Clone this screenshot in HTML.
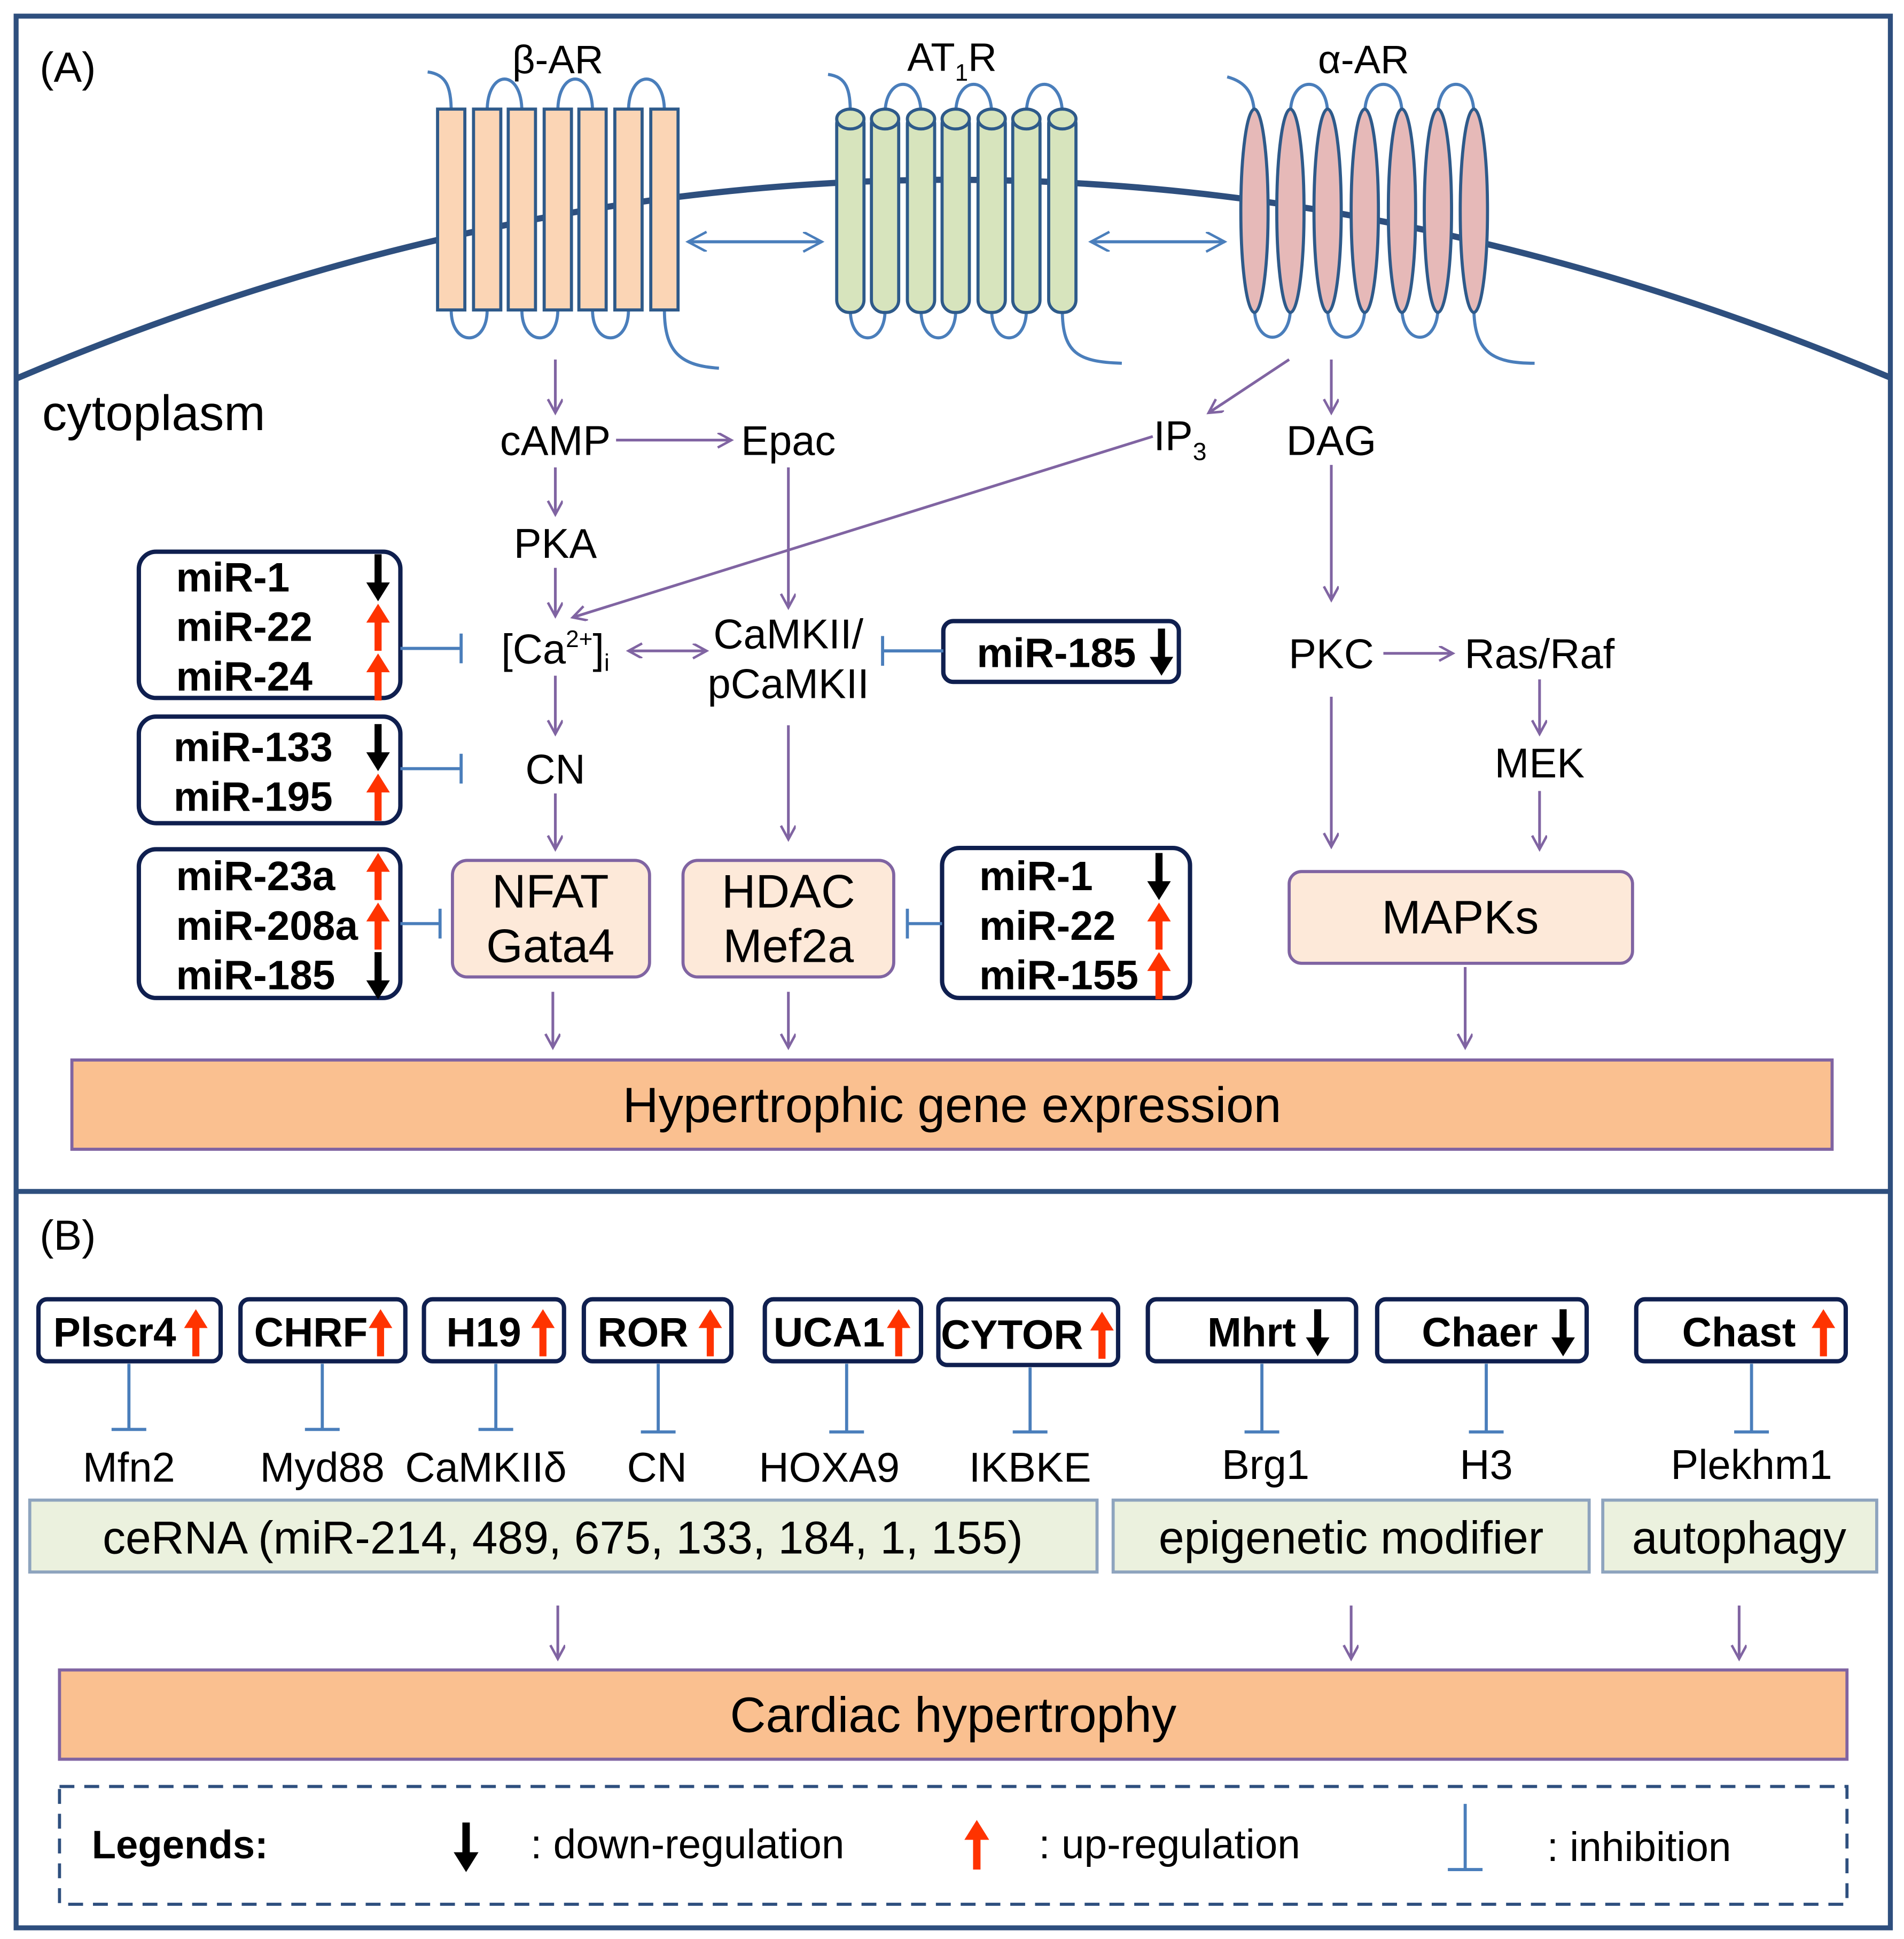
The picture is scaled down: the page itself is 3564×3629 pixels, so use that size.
<!DOCTYPE html>
<html><head><meta charset="utf-8"><style>html,body{margin:0;padding:0;background:#fff}svg{display:block}</style></head><body>
<svg width="3564" height="3629" viewBox="0 0 1536 1564" xmlns="http://www.w3.org/2000/svg" font-family="Liberation Sans, Arial, sans-serif">
<defs>
<marker id="pa" markerWidth="16" markerHeight="16" refX="12" refY="6" orient="auto" markerUnits="userSpaceOnUse"><path d="M1,0 L12,6 L1,12" fill="none" stroke="#8064A2" stroke-width="2"/></marker>
<marker id="pb" markerWidth="16" markerHeight="16" refX="12" refY="6" orient="auto-start-reverse" markerUnits="userSpaceOnUse"><path d="M1,0 L12,6 L1,12" fill="none" stroke="#8064A2" stroke-width="2"/></marker>
<marker id="ba" markerWidth="20" markerHeight="20" refX="16" refY="8" orient="auto-start-reverse" markerUnits="userSpaceOnUse"><path d="M1,0 L16,8 L1,16" fill="none" stroke="#4A7EBB" stroke-width="2"/></marker>
<symbol id="up" viewBox="0 0 20 40"><path d="M10,0 L20,16 L13,16 L13,40 L7,40 L7,16 L0,16 Z" fill="#FF3300"/></symbol>
<symbol id="dn" viewBox="0 0 20 40"><path d="M10,40 L20,24 L13,24 L13,0 L7,0 L7,24 L0,24 Z" fill="#000"/></symbol>
</defs>
<rect x="13" y="13" width="1512" height="1542" fill="#fff" stroke="#2E4F7E" stroke-width="4"/>
<line x1="13" y1="961" x2="1525" y2="961" stroke="#2E4F7E" stroke-width="4"/>
<path d="M14,305 Q768,-15 1526,305" fill="none" stroke="#2E4F7E" stroke-width="5"/>
<text x="32" y="66" font-size="34">(A)</text>
<text x="34" y="347" font-size="40">cytoplasm</text>
<g fill="none" stroke="#4A7EBB" stroke-width="2.5">
<path d="M345,58 C360,60 364,70 364,90"/>
<path d="M393,90 C393,55 421,55 421,90"/><path d="M450,90 C450,55 478,55 478,90"/><path d="M507,90 C507,55 536,55 536,90"/>
<path d="M364,250 C364,280 393,280 393,250"/><path d="M421,250 C421,280 450,280 450,250"/><path d="M478,250 C478,280 507,280 507,250"/>
<path d="M536,250 C536,285 550,295 580,297"/>
</g>
<g fill="#FBD5B5" stroke="#2E5A8A" stroke-width="2.5">
<rect x="353" y="88" width="22" height="162"/><rect x="382" y="88" width="22" height="162"/><rect x="410" y="88" width="22" height="162"/><rect x="439" y="88" width="22" height="162"/><rect x="467" y="88" width="22" height="162"/><rect x="496" y="88" width="22" height="162"/><rect x="525" y="88" width="22" height="162"/>
</g>
<text x="450" y="59" font-size="32" text-anchor="middle">β-AR</text>
<g fill="none" stroke="#4A7EBB" stroke-width="2.5">
<path d="M668,60 C683,62 686,72 686,92"/>
<path d="M714,92 C714,60 743,60 743,92"/><path d="M771,92 C771,60 800,60 800,92"/><path d="M828,92 C828,60 857,60 857,92"/>
<path d="M686,250 C686,280 714,280 714,250"/><path d="M743,250 C743,280 771,280 771,250"/><path d="M800,250 C800,280 828,280 828,250"/>
<path d="M857,250 C857,285 870,292 905,293"/>
</g>
<g fill="#D7E4BD" stroke="#2E5A8A" stroke-width="2.5">
<rect x="675" y="90" width="22" height="162" rx="10"/><rect x="703" y="90" width="22" height="162" rx="10"/><rect x="732" y="90" width="22" height="162" rx="10"/><rect x="760" y="90" width="22" height="162" rx="10"/><rect x="789" y="90" width="22" height="162" rx="10"/><rect x="817" y="90" width="22" height="162" rx="10"/><rect x="846" y="90" width="22" height="162" rx="10"/>
<ellipse cx="686" cy="96" rx="11" ry="8"/><ellipse cx="714" cy="96" rx="11" ry="8"/><ellipse cx="743" cy="96" rx="11" ry="8"/><ellipse cx="771" cy="96" rx="11" ry="8"/><ellipse cx="800" cy="96" rx="11" ry="8"/><ellipse cx="828" cy="96" rx="11" ry="8"/><ellipse cx="857" cy="96" rx="11" ry="8"/>
</g>
<text x="768" y="57" font-size="32" text-anchor="middle">AT<tspan font-size="19" dy="8">1</tspan><tspan dy="-8">R</tspan></text>
<g fill="none" stroke="#4A7EBB" stroke-width="2.5">
<path d="M990,62 C1005,66 1012,75 1012,95"/>
<path d="M1041,92 C1041,60 1071,60 1071,92"/><path d="M1101,92 C1101,60 1131,60 1131,92"/><path d="M1160,92 C1160,60 1189,60 1189,92"/>
<path d="M1012,248 C1012,280 1041,280 1041,248"/><path d="M1071,248 C1071,280 1101,280 1101,248"/><path d="M1131,248 C1131,280 1160,280 1160,248"/>
<path d="M1189,248 C1189,285 1205,293 1238,293"/>
</g>
<g fill="#E6B9B8" stroke="#2E5A8A" stroke-width="2.5">
<ellipse cx="1012" cy="170" rx="11" ry="82"/><ellipse cx="1041" cy="170" rx="11" ry="82"/><ellipse cx="1071" cy="170" rx="11" ry="82"/><ellipse cx="1101" cy="170" rx="11" ry="82"/><ellipse cx="1131" cy="170" rx="11" ry="82"/><ellipse cx="1160" cy="170" rx="11" ry="82"/><ellipse cx="1189" cy="170" rx="11" ry="82"/>
</g>
<text x="1100" y="59" font-size="32" text-anchor="middle">α-AR</text>
<line x1="555" y1="195" x2="663" y2="195" stroke="#4A7EBB" stroke-width="2.5" marker-start="url(#ba)" marker-end="url(#ba)"/>
<line x1="880" y1="195" x2="988" y2="195" stroke="#4A7EBB" stroke-width="2.5" marker-start="url(#ba)" marker-end="url(#ba)"/>
<g stroke="#8064A2" stroke-width="2.2" fill="none" marker-end="url(#pa)">
<line x1="448" y1="290" x2="448" y2="333"/>
<line x1="497" y1="355" x2="590" y2="355"/>
<line x1="448" y1="377" x2="448" y2="415"/>
<line x1="448" y1="458" x2="448" y2="497"/>
<line x1="636" y1="377" x2="636" y2="490"/>
<line x1="930" y1="352" x2="462" y2="498"/>
<line x1="1040" y1="290" x2="975" y2="333"/>
<line x1="1074" y1="290" x2="1074" y2="333"/>
<line x1="1074" y1="375" x2="1074" y2="484"/>
<line x1="448" y1="545" x2="448" y2="592"/>
<line x1="448" y1="640" x2="448" y2="685"/>
<line x1="636" y1="585" x2="636" y2="677"/>
<line x1="1116" y1="527" x2="1172" y2="527"/>
<line x1="1242" y1="548" x2="1242" y2="592"/>
<line x1="1242" y1="638" x2="1242" y2="685"/>
<line x1="1074" y1="562" x2="1074" y2="683"/>
<line x1="446" y1="800" x2="446" y2="845"/>
<line x1="636" y1="800" x2="636" y2="845"/>
<line x1="1182" y1="780" x2="1182" y2="845"/>
<line x1="507" y1="525" x2="570" y2="525" marker-start="url(#pb)"/>
</g>
<g font-size="33.5" text-anchor="middle">
<text x="448" y="367">cAMP</text><text x="636" y="367">Epac</text>
<text x="952" y="363">IP<tspan font-size="20" dy="8">3</tspan></text>
<text x="1074" y="367">DAG</text><text x="448" y="450">PKA</text>
<text x="448" y="535">[Ca<tspan font-size="19" dy="-13">2+</tspan><tspan dy="13">]</tspan><tspan font-size="19" dy="6">i</tspan></text>
<text x="636" y="523">CaMKII/</text><text x="636" y="563">pCaMKII</text>
<text x="448" y="632">CN</text><text x="1074" y="539">PKC</text><text x="1242" y="539">Ras/Raf</text><text x="1242" y="627">MEK</text>
</g>
<g fill="#FDE9D9" stroke="#8064A2" stroke-width="2.5">
<rect x="365" y="694" width="159" height="94" rx="12"/><rect x="551" y="694" width="170" height="94" rx="12"/><rect x="1040" y="703" width="277" height="74" rx="10"/>
</g>
<g font-size="38" text-anchor="middle">
<text x="444" y="732">NFAT</text><text x="444" y="776">Gata4</text>
<text x="636" y="732">HDAC</text><text x="636" y="776">Mef2a</text>
<text x="1178" y="753">MAPKs</text>
</g>
<rect x="58" y="855" width="1420" height="72" fill="#FAC090" stroke="#8064A2" stroke-width="2.5"/>
<text x="768" y="905" font-size="40" text-anchor="middle">Hypertrophic gene expression</text>
<g fill="none" stroke="#0F1F4F" stroke-width="3.5">
<rect x="112" y="445" width="211" height="118" rx="14"/><rect x="112" y="578" width="211" height="86" rx="14"/><rect x="112" y="685" width="211" height="120" rx="14"/>
<rect x="761" y="501" width="190" height="49" rx="8"/><rect x="760" y="684" width="200" height="121" rx="14"/>
</g>
<g font-size="33" font-weight="bold">
<text x="142" y="477">miR-1</text><text x="142" y="517">miR-22</text><text x="142" y="557">miR-24</text>
<text x="140" y="614">miR-133</text><text x="140" y="654">miR-195</text>
<text x="142" y="718">miR-23a</text><text x="142" y="758">miR-208a</text><text x="142" y="798">miR-185</text>
<text x="788" y="538">miR-185</text>
<text x="790" y="718">miR-1</text><text x="790" y="758">miR-22</text><text x="790" y="798">miR-155</text>
</g>
<use href="#dn" x="294" y="447" width="22" height="38"/><use href="#up" x="294" y="487" width="22" height="38"/><use href="#up" x="294" y="527" width="22" height="38"/>
<use href="#dn" x="294" y="584" width="22" height="38"/><use href="#up" x="294" y="624" width="22" height="38"/>
<use href="#up" x="294" y="688" width="22" height="38"/><use href="#up" x="294" y="728" width="22" height="38"/><use href="#dn" x="294" y="768" width="22" height="38"/>
<use href="#dn" x="926" y="507" width="22" height="38"/>
<use href="#dn" x="924" y="688" width="22" height="38"/><use href="#up" x="924" y="728" width="22" height="38"/><use href="#up" x="924" y="768" width="22" height="38"/>
<g stroke="#4A7EBB" stroke-width="2.5" fill="none">
<path d="M323,523 H372 M372,511 V535"/><path d="M323,620 H372 M372,608 V632"/><path d="M323,745 H355 M355,733 V757"/>
<path d="M761,525 H712 M712,513 V537"/><path d="M760,745 H732 M732,733 V757"/>
</g>
<text x="32" y="1008" font-size="34">(B)</text>
<g fill="none" stroke="#0F1F4F" stroke-width="3.5">
<rect x="31" y="1048" width="147" height="50" rx="7"/><rect x="194" y="1048" width="133" height="50" rx="7"/><rect x="342" y="1048" width="113" height="50" rx="7"/><rect x="471" y="1048" width="119" height="50" rx="7"/><rect x="617" y="1048" width="126" height="50" rx="7"/><rect x="757" y="1048" width="145" height="53" rx="7"/><rect x="926" y="1048" width="168" height="50" rx="7"/><rect x="1111" y="1048" width="169" height="50" rx="7"/><rect x="1320" y="1048" width="169" height="50" rx="7"/>
</g>
<g font-size="33" font-weight="bold">
<text x="43" y="1086">Plscr4</text><text x="205" y="1086">CHRF</text><text x="360" y="1086">H19</text><text x="482" y="1086">ROR</text><text x="624" y="1086">UCA1</text><text x="759" y="1088">CYTOR</text><text x="974" y="1086">Mhrt</text><text x="1147" y="1086">Chaer</text><text x="1357" y="1086">Chast</text>
</g>
<use href="#up" x="147" y="1056" width="22" height="38"/><use href="#up" x="296" y="1056" width="22" height="38"/><use href="#up" x="427" y="1056" width="22" height="38"/><use href="#up" x="562" y="1056" width="22" height="38"/><use href="#up" x="714" y="1056" width="22" height="38"/><use href="#up" x="878" y="1058" width="22" height="38"/>
<use href="#dn" x="1052" y="1056" width="22" height="38"/><use href="#dn" x="1250" y="1056" width="22" height="38"/><use href="#up" x="1460" y="1056" width="22" height="38"/>
<g stroke="#4A7EBB" stroke-width="2.5" fill="none">
<path d="M104,1100 V1153 M90,1153 H118"/><path d="M260,1100 V1153 M246,1153 H274"/><path d="M400,1100 V1153 M386,1153 H414"/><path d="M531,1100 V1155 M517,1155 H545"/><path d="M683,1100 V1155 M669,1155 H697"/><path d="M831,1103 V1155 M817,1155 H845"/><path d="M1018,1100 V1155 M1004,1155 H1032"/><path d="M1199,1100 V1155 M1185,1155 H1213"/><path d="M1413,1100 V1155 M1399,1155 H1427"/>
</g>
<g font-size="33.5" text-anchor="middle">
<text x="104" y="1195">Mfn2</text><text x="260" y="1195">Myd88</text><text x="392" y="1195">CaMKIIδ</text><text x="530" y="1195">CN</text><text x="669" y="1195">HOXA9</text><text x="831" y="1195">IKBKE</text><text x="1021" y="1193">Brg1</text><text x="1199" y="1193">H3</text><text x="1413" y="1193">Plekhm1</text>
</g>
<g fill="#EBF1DE" stroke="#8EA4BE" stroke-width="2.5">
<rect x="24" y="1210" width="861" height="58"/><rect x="898" y="1210" width="384" height="58"/><rect x="1293" y="1210" width="221" height="58"/>
</g>
<g font-size="37" text-anchor="middle">
<text x="454" y="1253">ceRNA (miR-214, 489, 675, 133, 184, 1, 155)</text><text x="1090" y="1253">epigenetic modifier</text><text x="1403" y="1253">autophagy</text>
</g>
<g stroke="#8064A2" stroke-width="2.2" marker-end="url(#pa)">
<line x1="450" y1="1295" x2="450" y2="1338"/><line x1="1090" y1="1295" x2="1090" y2="1338"/><line x1="1403" y1="1295" x2="1403" y2="1338"/>
</g>
<rect x="48" y="1347" width="1442" height="72" fill="#FAC090" stroke="#8064A2" stroke-width="2.5"/>
<text x="769" y="1397" font-size="40" text-anchor="middle">Cardiac hypertrophy</text>
<rect x="48" y="1441" width="1442" height="95" fill="none" stroke="#2E4F7E" stroke-width="2.5" stroke-dasharray="12,8"/>
<text x="74" y="1499" font-size="32" font-weight="bold">Legends:</text>
<use href="#dn" x="365" y="1470" width="22" height="40"/>
<text x="428" y="1499" font-size="33">: down-regulation</text>
<use href="#up" x="777" y="1468" width="22" height="40"/>
<text x="838" y="1499" font-size="33">: up-regulation</text>
<path d="M1182,1455 V1508 M1168,1508 H1196" stroke="#4A7EBB" stroke-width="2.5" fill="none"/>
<text x="1248" y="1501" font-size="33">: inhibition</text>
</svg>
</body></html>
